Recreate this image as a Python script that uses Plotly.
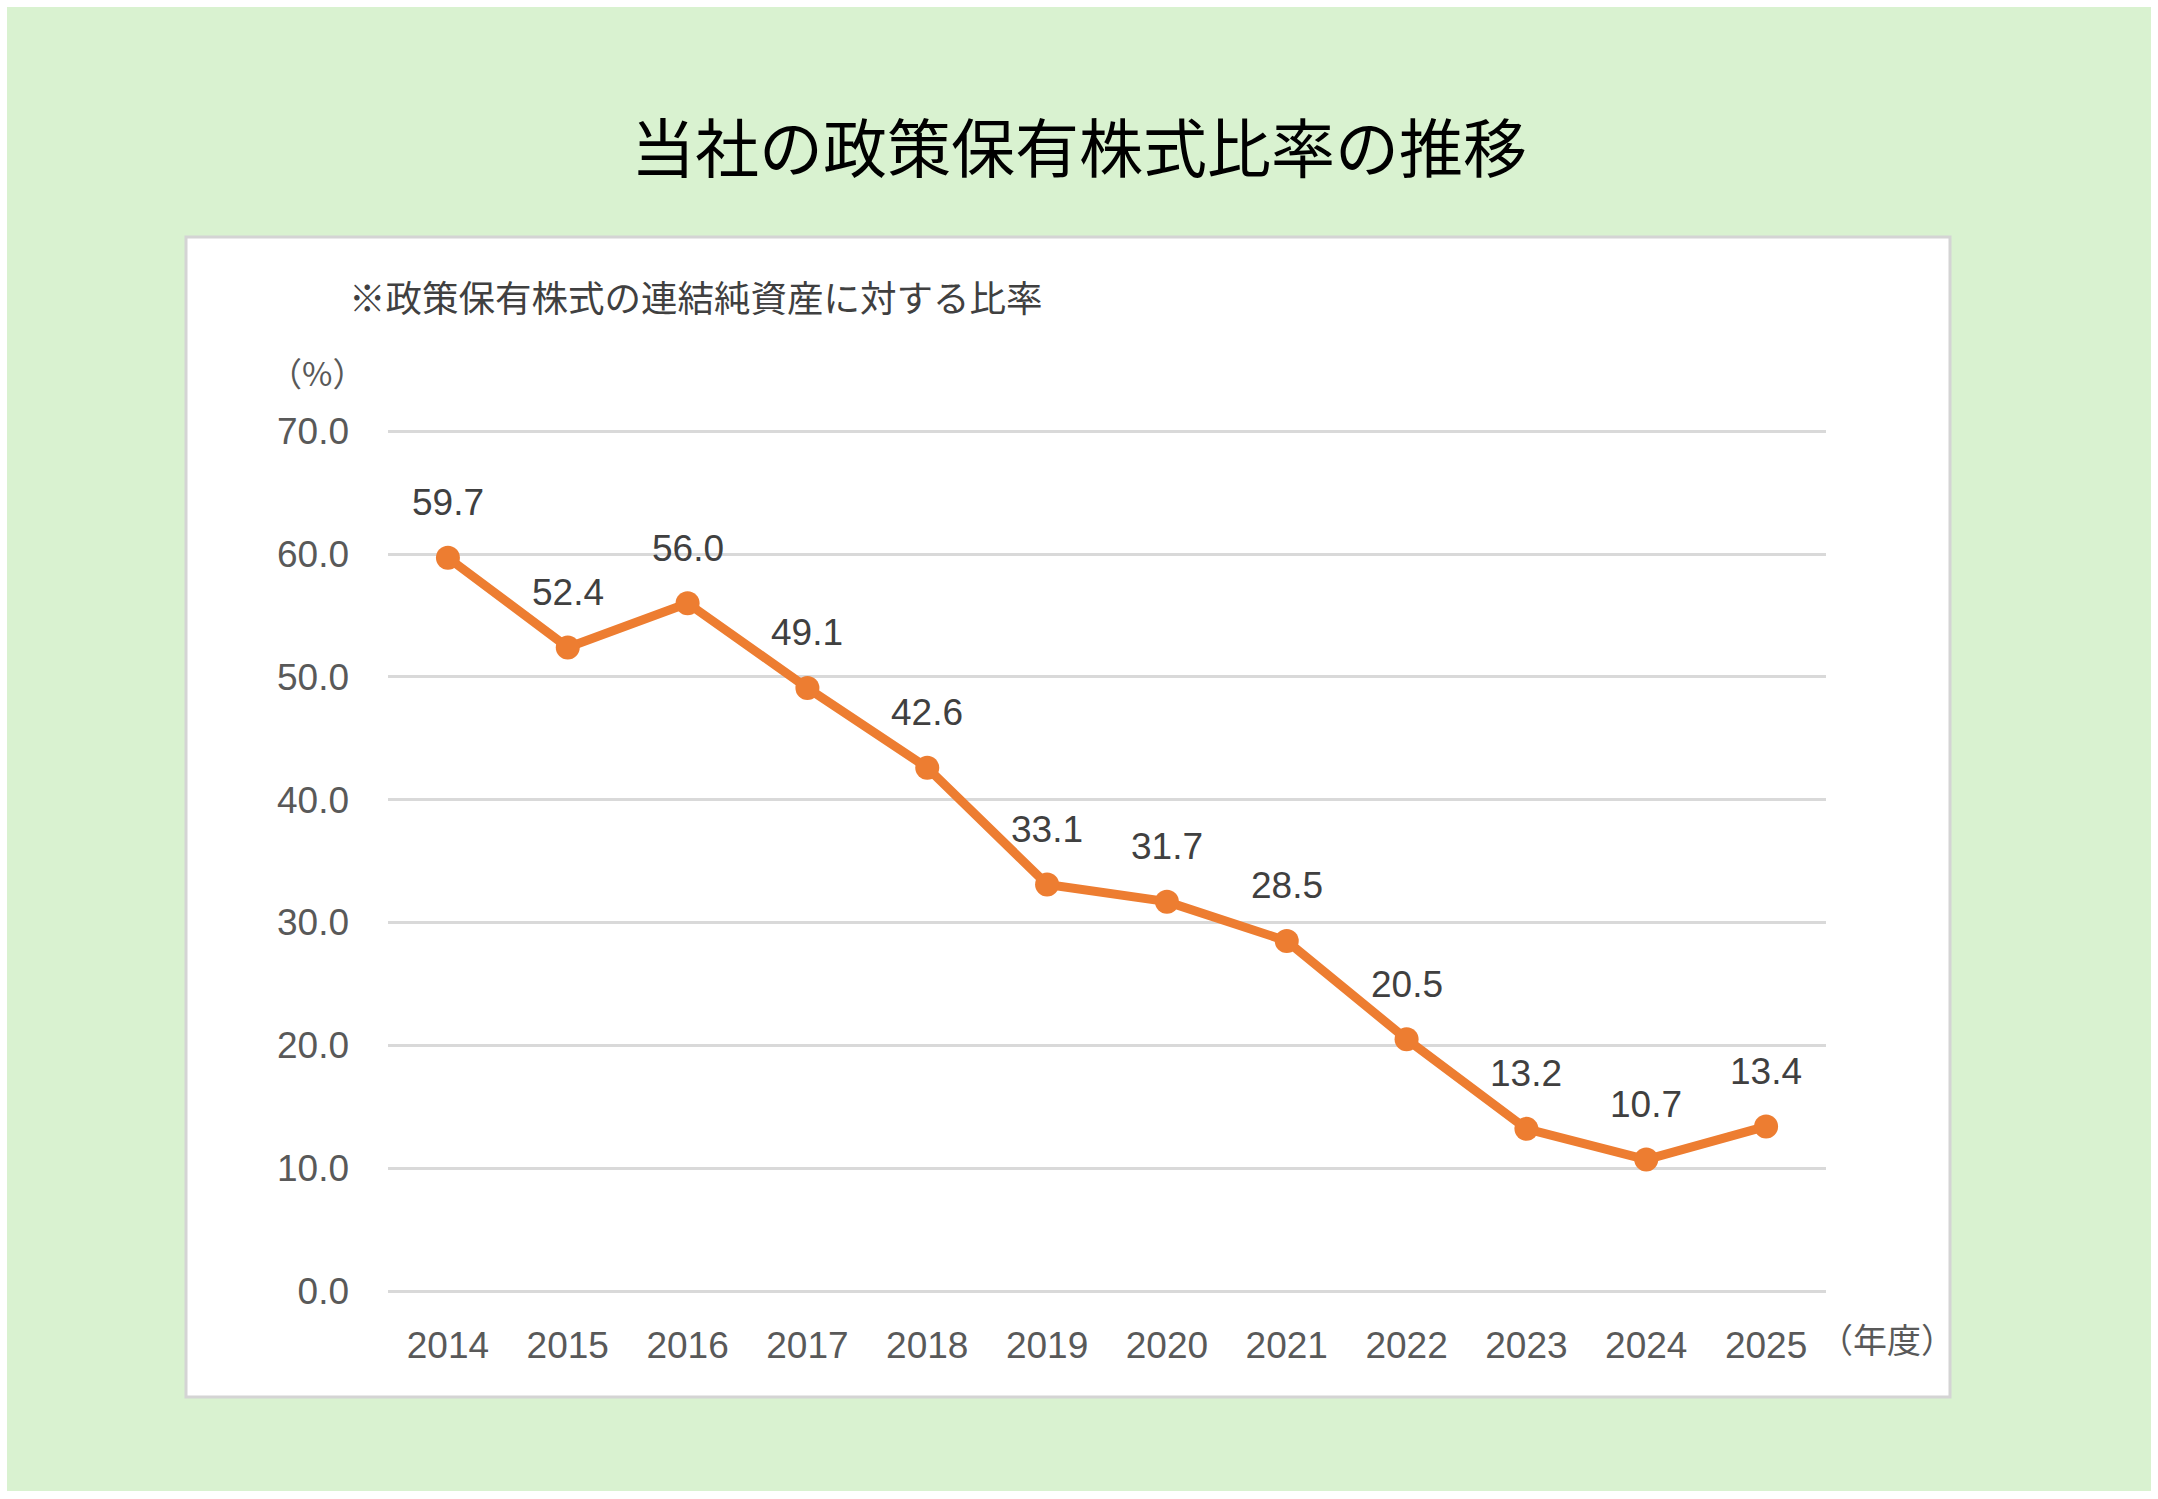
import plotly.graph_objects as go

years = ["2014", "2015", "2016", "2017", "2018", "2019", "2020", "2021", "2022", "2023", "2024", "2025"]
ratios = [59.7, 52.4, 56.0, 49.1, 42.6, 33.1, 31.7, 28.5, 20.5, 13.2, 10.7, 13.4]
y_ticks = [0, 10, 20, 30, 40, 50, 60, 70]

title_text = "当社の政策保有株式比率の推移"
subtitle_text = "※政策保有株式の連結純資産に対する比率"
y_unit = "（%）"
x_unit = "（年度）"

W, H = 2158, 1499
FONT = "Noto Sans CJK JP"
NUMFONT = "Liberation Sans, Arial, sans-serif"
ORANGE = "#ED7D31"

def px(x):
    return x / W

def py(y):
    return 1 - y / H

plot_left, plot_right = 388, 1826
plot_top, plot_bottom = 430, 1291

fig = go.Figure()
fig.add_trace(go.Scatter(
    x=years, y=ratios, mode="lines+markers",
    line=dict(color=ORANGE, width=9),
    marker=dict(color=ORANGE, size=24),
    hoverinfo="skip", showlegend=False,
))

for i, v in enumerate(ratios):
    fig.add_annotation(x=i, y=v, xref="x", yref="y", text=f"{v:.1f}",
                       showarrow=False, yshift=55,
                       font=dict(family=NUMFONT, size=37, color="#404040"))

shapes = [
    dict(type="rect", xref="paper", yref="paper", x0=px(7), x1=px(2151), y0=py(1491), y1=py(7),
         fillcolor="#D9F2D0", line=dict(width=0), layer="below"),
    dict(type="rect", xref="paper", yref="paper", x0=px(186), x1=px(1950), y0=py(1397), y1=py(237),
         fillcolor="white", line=dict(color="#D4D4D4", width=3), layer="below"),
]

annotations = [
    dict(text=title_text, x=px(1079), y=py(144), xref="paper", yref="paper", showarrow=False,
         xanchor="center", yanchor="middle", font=dict(family=FONT, size=64, color="#000000")),
    dict(text=subtitle_text, x=px(347), y=py(296), xref="paper", yref="paper", showarrow=False,
         xanchor="left", yanchor="middle", font=dict(family=FONT, size=36.5, color="#404040")),
    dict(text=y_unit, x=px(317), y=py(372), xref="paper", yref="paper", showarrow=False,
         xanchor="center", yanchor="middle", font=dict(family=FONT, size=33, color="#595959")),
    dict(text=x_unit, x=px(1887), y=py(1338), xref="paper", yref="paper", showarrow=False,
         xanchor="center", yanchor="middle", font=dict(family=FONT, size=34, color="#595959")),
]
for a in annotations:
    fig.add_annotation(**a)

fig.update_layout(
    template="none",
    width=W, height=H,
    margin=dict(l=0, r=0, t=0, b=0, autoexpand=False),
    paper_bgcolor="white", plot_bgcolor="rgba(0,0,0,0)",
    shapes=shapes,
    xaxis=dict(domain=[px(plot_left), px(plot_right)], type="category",
               range=[-0.5, len(years) - 0.5], automargin=False,
               showgrid=False, showline=False, zeroline=False, ticks="",
               tickfont=dict(family=NUMFONT, size=37, color="#595959"),
               ticklabelstandoff=29),
    yaxis=dict(domain=[py(plot_bottom), py(plot_top)], range=[0, 70.1], automargin=False,
               tickvals=y_ticks, ticktext=[f"{t:.1f}" for t in y_ticks],
               showgrid=True, gridcolor="#D9D9D9", gridwidth=3,
               zeroline=True, zerolinecolor="#D9D9D9", zerolinewidth=3,
               showline=False, ticks="",
               tickfont=dict(family=NUMFONT, size=37, color="#595959"),
               ticklabelstandoff=38),
)

fig.write_html("out.html")
